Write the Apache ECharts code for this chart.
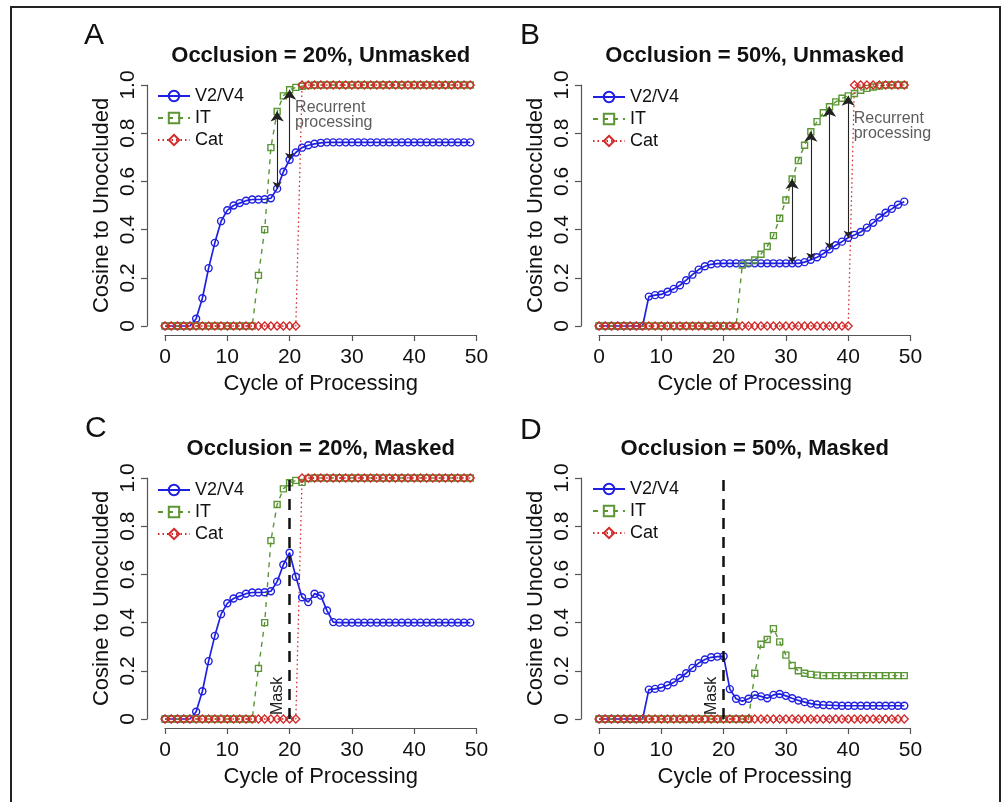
<!DOCTYPE html>
<html>
<head>
<meta charset="utf-8">
<script src="https://cdn.jsdelivr.net/npm/echarts@6/dist/echarts.min.js"></script>
<style>
  html, body { margin: 0; padding: 0; background: #fff; }
  #chart { width: 1002px; height: 802px; }
</style>
</head>
<body>
<div id="chart"></div>
<script>
// tick labels
const xTicks = [0, 10, 20, 30, 40, 50];
const yTickLabels = ['0', '0.2', '0.4', '0.6', '0.8', '1.0'];

const panelLetters = ['A', 'B', 'C', 'D'];
const panelTitles = [
  'Occlusion = 20%, Unmasked',
  'Occlusion = 50%, Unmasked',
  'Occlusion = 20%, Masked',
  'Occlusion = 50%, Masked'
];
const seriesNames = ['V2/V4', 'IT', 'Cat'];

// values per cycle of processing (index = cycle 0..49)
// Panel A
const v2v4A = [0, 0, 0, 0, 0, 0.03, 0.115, 0.24, 0.345, 0.435,
  0.48, 0.50, 0.51, 0.52, 0.525, 0.525, 0.526, 0.53, 0.57, 0.64,
  0.69, 0.72, 0.74, 0.75, 0.756, 0.76, 0.762, 0.762, 0.762, 0.762,
  0.762, 0.762, 0.762, 0.762, 0.762, 0.762, 0.762, 0.762, 0.762, 0.762,
  0.762, 0.762, 0.762, 0.762, 0.762, 0.762, 0.762, 0.762, 0.762, 0.762];
const itA = [0, 0, 0, 0, 0, 0, 0, 0, 0, 0,
  0, 0, 0, 0, 0, 0.21, 0.40, 0.74, 0.89, 0.955,
  0.98, 0.99, 0.995, 0.998, 1, 1, 1, 1, 1, 1,
  1, 1, 1, 1, 1, 1, 1, 1, 1, 1,
  1, 1, 1, 1, 1, 1, 1, 1, 1, 1];
const catA = [0, 0, 0, 0, 0, 0, 0, 0, 0, 0,
  0, 0, 0, 0, 0, 0, 0, 0, 0, 0,
  0, 0, 1, 1, 1, 1, 1, 1, 1, 1,
  1, 1, 1, 1, 1, 1, 1, 1, 1, 1,
  1, 1, 1, 1, 1, 1, 1, 1, 1, 1];

// Panel B
const v2v4B = [0, 0, 0, 0, 0, 0, 0, 0, 0.122, 0.128,
  0.131, 0.142, 0.154, 0.169, 0.19, 0.213, 0.234, 0.248, 0.256, 0.259,
  0.26, 0.26, 0.26, 0.26, 0.26, 0.26, 0.26, 0.26, 0.26, 0.26,
  0.26, 0.26, 0.26, 0.265, 0.275, 0.285, 0.30, 0.318, 0.335, 0.35,
  0.366, 0.378, 0.39, 0.408, 0.428, 0.45, 0.47, 0.486, 0.503, 0.516];
const itB = [0, 0, 0, 0, 0, 0, 0, 0, 0, 0,
  0, 0, 0, 0, 0, 0, 0, 0, 0, 0,
  0, 0, 0, 0.253, 0.262, 0.274, 0.298, 0.33, 0.375, 0.447,
  0.523, 0.61, 0.687, 0.75, 0.806, 0.848, 0.885, 0.91, 0.93, 0.945,
  0.955, 0.965, 0.978, 0.986, 0.992, 0.996, 1, 1, 1, 1];
const catB = [0, 0, 0, 0, 0, 0, 0, 0, 0, 0,
  0, 0, 0, 0, 0, 0, 0, 0, 0, 0,
  0, 0, 0, 0, 0, 0, 0, 0, 0, 0,
  0, 0, 0, 0, 0, 0, 0, 0, 0, 0,
  0, 1, 1, 1, 1, 1, 1, 1, 1, 1];

// Panel C
const v2v4C = [0, 0, 0, 0, 0, 0.03, 0.115, 0.24, 0.345, 0.435,
  0.48, 0.50, 0.51, 0.52, 0.525, 0.525, 0.526, 0.53, 0.57, 0.64,
  0.69, 0.59, 0.505, 0.485, 0.52, 0.512, 0.45, 0.402, 0.40, 0.40,
  0.40, 0.40, 0.40, 0.40, 0.40, 0.40, 0.40, 0.40, 0.40, 0.40,
  0.40, 0.40, 0.40, 0.40, 0.40, 0.40, 0.40, 0.40, 0.40, 0.40];
const itC = [0, 0, 0, 0, 0, 0, 0, 0, 0, 0,
  0, 0, 0, 0, 0, 0.21, 0.40, 0.74, 0.89, 0.955,
  0.98, 0.99, 0.982, 0.998, 1, 1, 1, 1, 1, 1,
  1, 1, 1, 1, 1, 1, 1, 1, 1, 1,
  1, 1, 1, 1, 1, 1, 1, 1, 1, 1];
const catC = [0, 0, 0, 0, 0, 0, 0, 0, 0, 0,
  0, 0, 0, 0, 0, 0, 0, 0, 0, 0,
  0, 0, 1, 1, 1, 1, 1, 1, 1, 1,
  1, 1, 1, 1, 1, 1, 1, 1, 1, 1,
  1, 1, 1, 1, 1, 1, 1, 1, 1, 1];

// Panel D
const v2v4D = [0, 0, 0, 0, 0, 0, 0, 0, 0.122, 0.125,
  0.13, 0.14, 0.152, 0.17, 0.19, 0.212, 0.232, 0.247, 0.256, 0.259,
  0.26, 0.124, 0.084, 0.074, 0.084, 0.10, 0.094, 0.086, 0.10, 0.104,
  0.096, 0.086, 0.077, 0.07, 0.064, 0.06, 0.058, 0.057, 0.056, 0.055,
  0.055, 0.055, 0.055, 0.055, 0.055, 0.055, 0.055, 0.055, 0.055, 0.055];
const itD = [0, 0, 0, 0, 0, 0, 0, 0, 0, 0,
  0, 0, 0, 0, 0, 0, 0, 0, 0, 0,
  0, 0, 0, 0, 0, 0.19, 0.31, 0.33, 0.375, 0.32,
  0.265, 0.222, 0.20, 0.19, 0.185, 0.182, 0.18, 0.18, 0.18, 0.18,
  0.18, 0.18, 0.18, 0.18, 0.18, 0.18, 0.18, 0.18, 0.18, 0.18];
const catD = [0, 0, 0, 0, 0, 0, 0, 0, 0, 0,
  0, 0, 0, 0, 0, 0, 0, 0, 0, 0,
  0, 0, 0, 0, 0, 0, 0, 0, 0, 0,
  0, 0, 0, 0, 0, 0, 0, 0, 0, 0,
  0, 0, 0, 0, 0, 0, 0, 0, 0, 0];

// recurrent processing arrows (cycles) and mask onset
const arrowsA = [18, 20];
const arrowsB = [31, 34, 37, 40];
const maskCycle = 20;

const FONT = '"Liberation Sans", Arial, Helvetica, sans-serif';
const BLUE = '#2020e0';
const GREEN = '#5b9634';
const RED = '#d22a2a';
const AXIS = '#555';

const panels = [
  { v2: v2v4A, it: itA, cat: catA, arrows: arrowsA, note: [20.8, 0.875], mask: false },
  { v2: v2v4B, it: itB, cat: catB, arrows: arrowsB, note: [40.8, 0.83], mask: false },
  { v2: v2v4C, it: itC, cat: catC, arrows: [], note: null, mask: true },
  { v2: v2v4D, it: itD, cat: catD, arrows: [], note: null, mask: true }
];

// layout of the four plot regions
const grids = [
  { left: 165, top: 85, width: 311.5, height: 241 },
  { left: 599, top: 85, width: 311.5, height: 241 },
  { left: 165, top: 478, width: 311.5, height: 241 },
  { left: 599, top: 478, width: 311.5, height: 241 }
];
const legendPos = [
  { left: 157, top: 87 },
  { left: 592, top: 88 },
  { left: 157, top: 481 },
  { left: 592, top: 480 }
];
const letterPos = [
  { left: 84, top: 21 },
  { left: 520, top: 21 },
  { left: 85, top: 414 },
  { left: 520, top: 416 }
];

function toXY(arr) {
  return arr.map((v, i) => [i, v]);
}

function buildSeries(p, idx) {
  const out = [];
  const mark = p.mask ? {
    silent: true,
    symbol: 'none',
    lineStyle: { color: '#111', width: 2.5, type: [11, 8] },
    label: {
      show: true, position: 'insideStartTop', formatter: 'Mask',
      fontFamily: FONT, fontSize: 16, color: '#222', distance: 4
    },
    data: [{ xAxis: maskCycle }]
  } : undefined;
  out.push({
    name: 'V2/V4', type: 'line', xAxisIndex: idx, yAxisIndex: idx,
    data: toXY(p.v2), clip: false,
    symbol: 'circle', symbolSize: 7,
    itemStyle: { color: 'rgba(0,0,0,0)', borderColor: BLUE, borderWidth: 1.4 },
    lineStyle: { color: BLUE, width: 1.7 },
    markLine: mark
  });
  out.push({
    name: 'IT', type: 'line', xAxisIndex: idx, yAxisIndex: idx,
    data: toXY(p.it), clip: false,
    symbol: 'rect', symbolSize: 6,
    itemStyle: { color: 'rgba(0,0,0,0)', borderColor: GREEN, borderWidth: 1.4 },
    lineStyle: { color: GREEN, width: 1.4, type: [5, 5] }
  });
  out.push({
    name: 'Cat', type: 'line', xAxisIndex: idx, yAxisIndex: idx,
    data: toXY(p.cat), clip: false,
    symbol: 'diamond', symbolSize: [8, 8],
    itemStyle: { color: 'rgba(0,0,0,0)', borderColor: RED, borderWidth: 1.3 },
    lineStyle: { color: RED, width: 1.3, type: [1.5, 3] }
  });
  if (p.arrows.length) {
    out.push({
      type: 'lines', coordinateSystem: 'cartesian2d', xAxisIndex: idx, yAxisIndex: idx,
      silent: true, z: 5,
      symbol: ['arrow', 'arrow'], symbolSize: [7, 10],
      lineStyle: { color: '#222', width: 1.1, opacity: 1 },
      data: p.arrows.map(c => ({ coords: [[c, p.v2[c]], [c, p.it[c]]] }))
    });
  }
  if (p.note) {
    out.push({
      type: 'scatter', xAxisIndex: idx, yAxisIndex: idx, silent: true,
      symbolSize: 1, itemStyle: { color: 'rgba(0,0,0,0)' },
      label: {
        show: true, position: 'right', distance: 0,
        formatter: 'Recurrent\nprocessing',
        fontFamily: FONT, fontSize: 16, lineHeight: 15, color: '#333'
      },
      data: [p.note]
    });
  }
  return out;
}

const chart = echarts.init(document.getElementById('chart'), null, { renderer: 'canvas' });

const option = {
  animation: false,
  backgroundColor: '#fff',
  textStyle: { fontFamily: FONT },
  title: panelTitles.map((t, i) => ({
    text: t,
    left: grids[i].left + grids[i].width / 2,
    top: grids[i].top - 40,
    textAlign: 'center',
    padding: 0,
    textStyle: { fontFamily: FONT, fontSize: 22, fontWeight: 'bold', color: '#111' }
  })).concat(panelLetters.map((t, i) => ({
    text: t,
    left: letterPos[i].left,
    top: letterPos[i].top,
    padding: 0,
    textStyle: { fontFamily: FONT, fontSize: 30, fontWeight: 'normal', color: '#111' }
  }))),
  legend: legendPos.map((pos, i) => ({
    data: seriesNames,
    orient: 'vertical',
    left: pos.left, top: pos.top,
    padding: 0,
    itemWidth: 32, itemHeight: 13, itemGap: 4,
    selectedMode: false,
    textStyle: { fontFamily: FONT, fontSize: 18, lineHeight: 18, color: '#111' }
  })),
  grid: grids,
  xAxis: grids.map((g, i) => ({
    type: 'value', gridIndex: i,
    min: xTicks[0], max: xTicks[xTicks.length - 1], interval: 10,
    offset: 9,
    name: 'Cycle of Processing', nameLocation: 'middle', nameGap: 38,
    nameTextStyle: { fontFamily: FONT, fontSize: 22, color: '#111' },
    axisLine: { show: true, onZero: false, lineStyle: { color: AXIS, width: 1.2 } },
    axisTick: { show: true, length: 6, lineStyle: { color: AXIS, width: 1.2 } },
    axisLabel: { fontFamily: FONT, fontSize: 21, color: '#111', margin: 12 },
    splitLine: { show: false }
  })),
  yAxis: grids.map((g, i) => ({
    type: 'value', gridIndex: i,
    min: 0, max: 1, interval: 0.2,
    offset: 18,
    name: 'Cosine to Unoccluded', nameLocation: 'middle', nameGap: 34,
    nameTextStyle: { fontFamily: FONT, fontSize: 22, color: '#111' },
    axisLine: { show: true, onZero: false, lineStyle: { color: AXIS, width: 1.2 } },
    axisTick: { show: true, length: 6, lineStyle: { color: AXIS, width: 1.2 } },
    axisLabel: {
      fontFamily: FONT, fontSize: 21, color: '#111', margin: 8, rotate: 90,
      formatter: v => yTickLabels[Math.round(v * 5)]
    },
    splitLine: { show: false }
  })),
  graphic: [{
    type: 'rect', silent: true,
    shape: { x: 11, y: 7, width: 989, height: 812 },
    style: { fill: 'none', stroke: '#222', lineWidth: 2 }
  }],
  series: panels.flatMap((p, i) => buildSeries(p, i))
};

chart.setOption(option);
</script>
</body>
</html>
